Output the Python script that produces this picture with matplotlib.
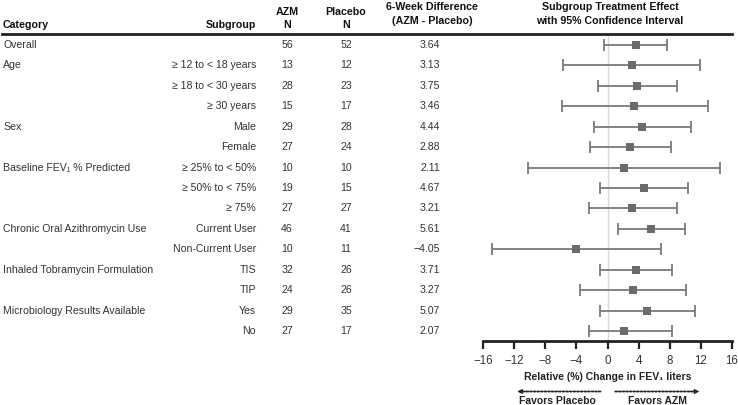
import numpy as np
import matplotlib
matplotlib.use("Agg")
import matplotlib.pyplot as plt
from matplotlib.transforms import blended_transform_factory
from matplotlib.lines import Line2D

plt.rcParams['font.family'] = ['Liberation Sans', 'DejaVu Sans']

categoria = ["Overall", "Age", "", "", "Sex", "", "Baseline FEV\u2081 % Predicted", "", "",
             "Chronic Oral Azithromycin Use", "", "Inhaled Tobramycin Formulation", "",
             "Microbiology Results Available", ""]
subgrupo = ["", "\u2265 12 to < 18 years", "\u2265 18 to < 30 years", "\u2265 30 years", "Male", "Female",
            "\u2265 25% to < 50%", "\u2265 50% to < 75%", "\u2265 75%", "Current User", "Non-Current User",
            "TIS", "TIP", "Yes", "No"]
n_azm = [56, 13, 28, 15, 29, 27, 10, 19, 27, 46, 10, 32, 24, 29, 27]
n_placebo = [52, 12, 23, 17, 28, 24, 10, 15, 27, 41, 11, 26, 26, 35, 17]
diferencia = [3.64, 3.13, 3.75, 3.46, 4.44, 2.88, 2.11, 4.67, 3.21, 5.61, -4.05, 3.71, 3.27, 5.07, 2.07]
ic_bajo = [-0.47, -5.7, -1.25, -5.9, -1.7, -2.3, -10.2, -1.0, -2.35, 1.3, -14.9, -0.9, -3.55, -0.9, -2.35]
ic_alto = [7.67, 11.95, 8.9, 12.9, 10.7, 8.1, 14.5, 10.3, 8.9, 9.9, 6.9, 8.35, 10.1, 11.2, 8.35]
ticks = [-16, -12, -8, -4, 0, 4, 8, 12, 16]

W, H = 738, 405
fig = plt.figure(figsize=(W / 100, H / 100), dpi=100)

# ejes del forest plot, en pixeles del dibujo original
x0, x1 = 483, 732
y_top, y_axis = 34, 341
ax = fig.add_axes([x0 / W, (H - y_axis) / H, (x1 - x0) / W, (y_axis - y_top) / H])
paso = 20.43
fila0 = 45
ax.set_xlim(-16, 16)
ax.set_ylim((y_axis - fila0) / paso, (y_top - fila0) / paso)

filas = np.arange(len(diferencia))
gris = "#7a7a7a"
ax.axvline(0, color="#d8d8d8", lw=1, zorder=0)
ax.errorbar(diferencia, filas,
            xerr=[np.array(diferencia) - np.array(ic_bajo), np.array(ic_alto) - np.array(diferencia)],
            fmt="none", ecolor=gris, elinewidth=1.3, capsize=4, capthick=1.3)
ax.plot(diferencia, filas, "s", color="#6b6b6b", markersize=6, markeredgewidth=0, zorder=3)

for s in ["top", "right", "left"]:
    ax.spines[s].set_visible(False)
ax.spines["bottom"].set_linewidth(2)
ax.spines["bottom"].set_color("#222222")
ax.set_yticks([])
ax.set_xticks(ticks)
ax.tick_params(axis="x", direction="out", length=6, width=1.6, color="#222222",
               labelsize=8.3, labelcolor="#333333", pad=4)
ax.set_xlabel("Relative (%) Change in FEV\u2081 liters", fontsize=7.5, fontweight="bold",
              color="#222222", labelpad=4)

# flechas de favorece: linea punteada + punta solida
y_fl = 13.5
for ini, fin in [(-0.9, -11.6), (1.0, 11.8)]:
    ax.annotate("", xy=(fin * 0.97, y_fl), xytext=(ini, y_fl), xycoords=("data", "figure pixels"),
                textcoords=("data", "figure pixels"),
                arrowprops=dict(arrowstyle="-", linestyle=(0, (1, 1)), lw=1.3, color="#222222",
                                shrinkA=0, shrinkB=0))
    ax.annotate("", xy=(fin, y_fl), xytext=(fin * 0.9, y_fl), xycoords=("data", "figure pixels"),
                textcoords=("data", "figure pixels"),
                arrowprops=dict(arrowstyle="-|>", lw=0.8, color="#222222",
                                mutation_scale=7, shrinkA=0, shrinkB=0))
ax.annotate("Favors Placebo", xy=(-6.4, 4), xycoords=("data", "figure pixels"),
            ha="center", va="center", fontsize=7.5, fontweight="bold", color="#222222")
ax.annotate("Favors AZM", xy=(6.4, 4), xycoords=("data", "figure pixels"),
            ha="center", va="center", fontsize=7.5, fontweight="bold", color="#222222")

# tabla de texto a la izquierda
tr = blended_transform_factory(fig.transFigure, ax.transData)
col_txt = "#333333"
fs = 7.6
for i in filas:
    ax.text(3 / W, i, categoria[i], transform=tr, ha="left", va="center", fontsize=fs, color=col_txt)
    ax.text(256 / W, i, subgrupo[i], transform=tr, ha="right", va="center", fontsize=fs, color=col_txt)
    ax.text(287 / W, i, str(n_azm[i]), transform=tr, ha="center", va="center", fontsize=fs, color=col_txt)
    ax.text(346 / W, i, str(n_placebo[i]), transform=tr, ha="center", va="center", fontsize=fs, color=col_txt)
    ax.text(440 / W, i, f"{diferencia[i]:.2f}".replace("-", "\u2212"), transform=tr,
            ha="right", va="center", fontsize=fs, color=col_txt)

# encabezados
def fy(p):
    return (H - p) / H

hdr = dict(fontsize=7.7, fontweight="bold", color="#111111", va="center")
fig.text(3 / W, fy(25), "Category", ha="left", **hdr)
fig.text(256 / W, fy(25), "Subgroup", ha="right", **hdr)
fig.text(287 / W, fy(12), "AZM", ha="center", **hdr)
fig.text(287 / W, fy(25), "N", ha="center", **hdr)
fig.text(346 / W, fy(12), "Placebo", ha="center", **hdr)
fig.text(346 / W, fy(25), "N", ha="center", **hdr)
fig.text(432 / W, fy(7), "6-Week Difference", ha="center", **hdr)
fig.text(432 / W, fy(21), "(AZM - Placebo)", ha="center", **hdr)
fig.text(610 / W, fy(7), "Subgroup Treatment Effect", ha="center", **hdr)
fig.text(610 / W, fy(21), "with 95% Confidence Interval", ha="center", **hdr)
fig.add_artist(Line2D([2 / W, 732 / W], [fy(33.5), fy(33.5)], transform=fig.transFigure,
                      color="#222222", lw=2))

fig.savefig("out.png", dpi=100)
